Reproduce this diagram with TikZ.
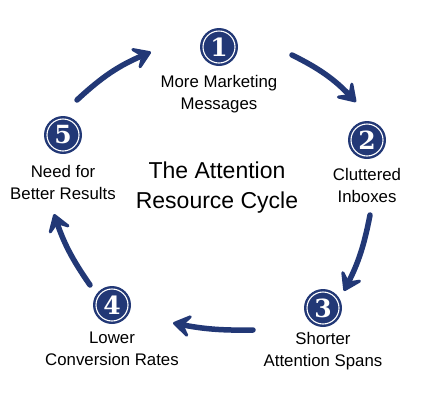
\documentclass[tikz,border=0pt]{standalone}
\usepackage{fontspec}
\setmainfont{Liberation Sans}
\newfontfamily\digitfont{DejaVu Serif}
\usetikzlibrary{arrows.meta,positioning}
\definecolor{cycnavy}{RGB}{34,56,118}
\tikzset{
  badge/.style={
    circle, fill=cycnavy, minimum size=38pt, inner sep=0pt, text=white,
    font=\digitfont\bfseries\fontsize{25}{25}\selectfont,
    path picture={\draw[white, line width=1.1pt]
      (path picture bounding box.center) circle (16pt);}
  },
  lbl/.style={align=center, inner sep=0pt, font=\fontsize{16.8}{22}\selectfont},
  ttl/.style={align=center, inner sep=0pt, font=\fontsize{23}{30}\selectfont},
  cyc/.style={-{Stealth[length=23pt,width=30pt,inset=11pt,round]}, draw=cycnavy,
    line width=5.5pt, line cap=round}
}
\begin{document}
\begin{tikzpicture}[x=1pt, y=-1pt, node distance=9pt]
  \useasboundingbox (0,0) rectangle (430,400);
  % steps of the cycle
  \node[badge] (b1) at (219,47) {1};
  \node[badge] (b2) at (367,140) {2};
  \node[badge] (b3) at (323,308) {3};
  \node[badge] (b4) at (112,305) {4};
  \node[badge] (b5) at (63,135) {5};
  \node[lbl, below=of b1] (l1) {More Marketing\\Messages};
  \node[lbl, below=of b2] (l2) {Cluttered\\Inboxes};
  \node[lbl, below=5pt of b3] (l3) {Shorter\\Attention Spans};
  \node[lbl, below=8pt of b4] (l4) {Lower\\Conversion Rates};
  \node[lbl, below=11pt of b5] (l5) {Need for\\Better Results};
  \node[ttl] (title) at (217,188) {The Attention\\Resource Cycle};

  % arrows
  \coordinate (s12) at (292,55);  \coordinate (e12) at (356,102);
  \coordinate (s23) at (370,215); \coordinate (e23) at (344,291);
  \coordinate (s34) at (253,330); \coordinate (e34) at (173,323);
  \coordinate (s45) at (90,285);  \coordinate (e45) at (54,214);
  \coordinate (s51) at (77,100);  \coordinate (e51) at (151,52);
  \draw[cyc] (s12) to[bend left=10] (e12);
  \draw[cyc] (s23) to[bend left=8] (e23);
  \draw[cyc] (s34) to[bend left=6] (e34);
  \draw[cyc] (s45) to[bend left=8] (e45);
  \draw[cyc] (s51) to[bend left=10] (e51);
\end{tikzpicture}
\end{document}
